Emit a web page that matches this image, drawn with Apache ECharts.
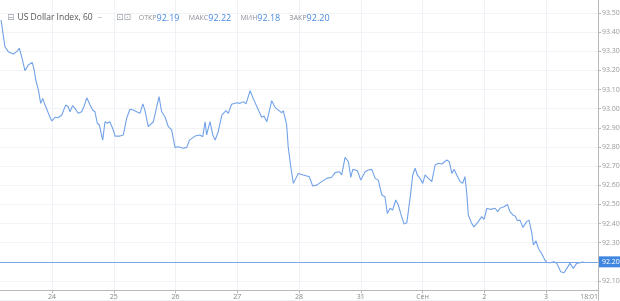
<!DOCTYPE html>
<html>
<head>
<meta charset="utf-8">
<script src="https://cdn.jsdelivr.net/npm/echarts@6/dist/echarts.min.js"></script>
<style>
html,body{margin:0;padding:0;background:#fff;}
#c{width:620px;height:301px;}
</style>
</head>
<body>
<div id="c"></div>
<script>
// Hours since start of day "24"
const hours = [-19.8,-18.3,-17.0,-15.0,-13.7,-12.7,-11.8,-10.5,-9.2,-8.6,-7.7,-6.9,-6.3,-5.3,-4.4,-3.6,-2.7,-1.4,-0.1,1.2,
2.4,3.8,5.3,6.3,7.0,8.0,8.9,10.2,11.5,12.4,13.5,14.8,15.8,16.7,17.6,18.4,19.0,19.7,20.6,21.5,
22.5,23.8,24.5,26.4,27.7,29.0,30.3,31.6,32.9,34.2,35.3,36.1,37.4,39.4,40.7,41.6,42.6,43.9,45.2,46.5,
47.8,49.1,51.0,52.4,53.4,55.6,57.5,58.6,59.5,60.1,61.4,62.5,63.4,64.6,66.0,67.6,68.5,69.8,71.8,73.1,
74.4,75.4,77.0,78.2,80.2,81.5,82.4,83.5,85.4,86.7,88.0,89.3,89.9,91.2,91.8,92.8,93.8,95.7,97.7,100.0,
101.3,102.9,104.8,106.8,108.7,110.0,111.7,112.6,113.9,115.2,116.1,116.9,118.7,120.0,121.7,122.9,124.3,125.6,126.8,128.2,
129.4,130.3,131.4,132.4,133.6,134.6,135.5,136.8,137.9,139.4,140.2,141.1,142.0,143.0,144.1,145.0,146.3,147.6,148.9,150.2,
151.5,152.1,153.4,154.4,155.4,156.3,157.3,158.6,159.6,160.5,161.2,161.8,163.1,164.0,165.7,167.0,167.9,169.0,170.5,172.2,
173.2,174.1,175.7,177.0,178.0,179.1,180.0,180.9,181.9,183.0,184.5,185.4,186.5,187.1,188.1,189.0,190.3,191.6,192.3,193.6,
195.1,196.2,197.7,199.0,200.1,201.3,202.6,203.9,205.2,206.5];
const prices = [93.463,93.324,93.298,93.286,93.298,93.316,93.272,93.199,93.228,93.219,93.242,93.202,93.150,93.098,93.028,93.054,93.019,92.976,92.936,92.955,
92.953,92.967,93.019,93.010,92.984,93.016,93.002,92.976,92.984,93.010,93.057,93.019,92.993,92.984,92.924,92.915,92.924,92.836,92.932,92.924,
92.932,92.889,92.857,92.857,92.863,92.950,92.997,92.993,92.984,92.976,93.025,92.993,92.906,92.932,93.010,93.063,92.984,92.958,92.906,92.889,
92.798,92.801,92.793,92.798,92.836,92.857,92.863,92.854,92.932,92.863,92.932,92.863,92.836,92.880,92.967,92.990,92.976,93.023,93.031,93.028,
93.037,93.025,93.094,93.054,92.993,92.955,92.962,92.932,93.042,93.007,92.993,92.979,92.990,92.915,92.801,92.697,92.610,92.662,92.654,92.645,
92.596,92.601,92.619,92.636,92.642,92.666,92.671,92.654,92.746,92.723,92.642,92.683,92.676,92.627,92.671,92.680,92.683,92.636,92.627,92.549,
92.540,92.453,92.480,92.471,92.523,92.497,92.453,92.398,92.404,92.558,92.654,92.689,92.654,92.636,92.610,92.654,92.636,92.619,92.706,92.715,
92.711,92.718,92.732,92.723,92.662,92.683,92.654,92.619,92.610,92.645,92.558,92.445,92.401,92.383,92.410,92.436,92.422,92.480,92.474,92.480,
92.462,92.480,92.488,92.500,92.462,92.445,92.439,92.415,92.418,92.380,92.410,92.418,92.349,92.288,92.310,92.271,92.244,92.209,92.197,92.195,
92.201,92.192,92.148,92.143,92.166,92.192,92.166,92.192,92.195,92.200];
const dayLabels = ['23','24','25','26','27','28','31','Сен','2','3'];
const lastTimeLabel = '18:01';
const yTicks = [92.1,92.2,92.3,92.4,92.5,92.6,92.7,92.8,92.9,93.0,93.1,93.2,93.3,93.4,93.5];
const lastPrice = 92.20;
const header = {name:'US Dollar Index, 60', open:'92.19', high:'92.22', low:'92.18', close:'92.20'};

const data = hours.map((h,i)=>[h,prices[i]]);
const chart = echarts.init(document.getElementById('c'), null, {renderer:'canvas'});
const FONT = 'Open Sans';
chart.setOption({
  animation:false,
  backgroundColor:'#ffffff',
  title:{
    left:2, top:4,
    text:'{ic|⊟}{nm|'+header.name+'} {g|~}   {ic|⊡⊡} {lb|ОТКР}{v|'+header.open+'}  {lb|МАКС}{v|'+header.high+'}  {lb|МИН}{v|'+header.low+'}  {lb|ЗАКР}{v|'+header.close+'}',
    textStyle:{
      fontFamily:FONT, fontWeight:'normal',
      rich:{
        ic:{fontSize:9,color:'#a0a5ad',fontFamily:'DejaVu Sans',fontWeight:'normal',padding:[0,3,0,0]},
        nm:{fontSize:8.5,color:'#555',fontFamily:FONT,fontWeight:'normal'},
        g:{fontSize:8,color:'#999',fontFamily:FONT,fontWeight:'normal'},
        lb:{fontSize:7,color:'#8a8f96',fontFamily:FONT,fontWeight:'normal'},
        v:{fontSize:9,color:'#4a8ae0',fontFamily:FONT,fontWeight:'normal'}
      }
    }
  },
  grid:{left:-9.75, right:22, top:-6.14, bottom:0.86, containLabel:false, outerBoundsMode:'none'},
  xAxis:{
    type:'value', min:-24, max:212.2, interval:24,
    offset:-10,
    axisLine:{show:true,onZero:false,lineStyle:{color:'#b8b8b8',width:1}},
    axisTick:{show:true,length:3,lineStyle:{color:'#b8b8b8'}},
    axisLabel:{
      fontFamily:FONT,fontSize:7,color:'#888',margin:3,
      showMaxLabel:true, alignMaxLabel:'right',
      formatter:function(v){
        const k = Math.round(v/24);
        if (Math.abs(v - k*24) < 0.01) return dayLabels[k+1] || '';
        return lastTimeLabel;
      }
    },
    splitLine:{show:true,lineStyle:{color:'#eef1f6',width:1}}
  },
  yAxis:{
    type:'value', position:'right', min:92.0, max:93.6, interval:0.1,
    axisLine:{show:true,onZero:false,lineStyle:{color:'#b8b8b8',width:1}},
    axisTick:{show:true,length:3,lineStyle:{color:'#b8b8b8'}},
    axisLabel:{
      fontFamily:FONT,fontSize:7,color:'#999',margin:4,
      showMinLabel:false, showMaxLabel:false,
      formatter:function(v){ return yTicks.some(t=>Math.abs(t-v)<1e-6) ? v.toFixed(2) : ''; }
    },
    splitLine:{show:true,lineStyle:{color:'#f1f3f7',width:1}}
  },
  series:[{
    type:'line', data:data, showSymbol:false, symbol:'none',
    lineStyle:{color:'#72a2e8',width:1.1},
    clip:true,
    markLine:{
      silent:true, symbol:['none','none'],
      lineStyle:{color:'#7aa7e3',width:1,type:'solid'},
      label:{show:true,position:'end',formatter:lastPrice.toFixed(2),color:'#fff',backgroundColor:'#3f86e0',
             fontFamily:FONT,fontSize:7,padding:[2,3,2,3],distance:1},
      data:[{yAxis:lastPrice}]
    }
  }]
});
</script>
</body>
</html>
